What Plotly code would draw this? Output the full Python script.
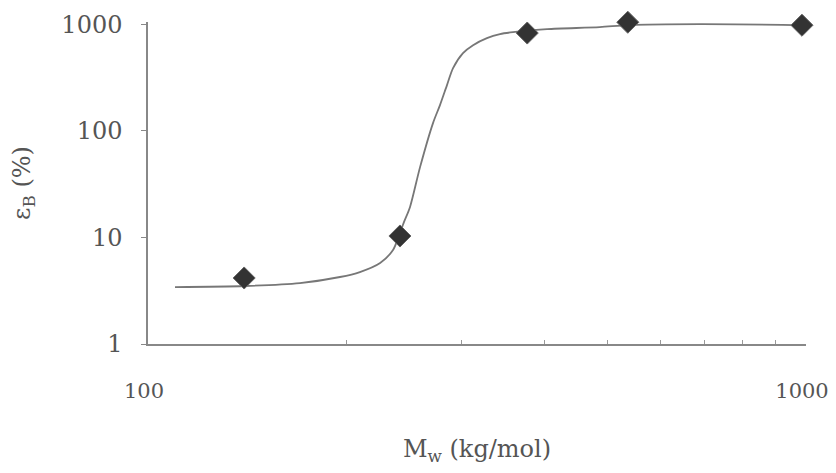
import plotly.graph_objects as go

# measured data points
mw_points = [140, 241.5, 377, 536, 986]
eb_points = [4.16, 10.3, 825, 1042, 977]

# fitted curve
mw_curve = [109.9, 140.4, 170.2, 195.8, 209.9, 225.3, 235.7, 239.9, 244.9, 250.1, 259.1,
            271.1, 277.8, 284.7, 290.8, 301.1, 311.9, 327.4, 342.7, 358.6, 404.1,
            486, 536.5, 690, 1000]
eb_curve = [3.42, 3.50, 3.73, 4.25, 4.73, 5.75, 7.61, 9.86, 13.9, 19.2, 45.6,
            118, 174, 268, 387, 535, 635, 739, 806, 841, 898,
            937, 979, 1000, 979]

y_ticks = [1, 10, 100, 1000]
y_labels = ["1", "10", "100", "1000"]
x_ticks = [100, 1000]
x_labels = ["100", "1000"]
x_minor = [200, 300, 400, 500, 600, 700, 800, 900]

font = dict(family="DejaVu Serif", size=24, color="#555")
xtick_font = dict(family="DejaVu Serif", size=21, color="#555")

fig = go.Figure()
fig.add_trace(go.Scatter(x=mw_curve, y=eb_curve, mode="lines", line_shape="spline",
                         line=dict(color="#777", width=1.8, smoothing=0.8),
                         showlegend=False, hoverinfo="skip"))
fig.add_trace(go.Scatter(x=mw_points, y=eb_points, mode="markers",
                         marker=dict(symbol="diamond", size=17, color="#333",
                                     line=dict(color="#666", width=1)),
                         showlegend=False, cliponaxis=False))

# page body has an 8px margin, so the figure is sized to fit the window
fig.update_layout(
    width=828, height=465, autosize=False,
    margin=dict(l=140, r=30, t=14, b=129),
    paper_bgcolor="white", plot_bgcolor="white",
    font=font,
    xaxis=dict(type="log", range=[2, 3], tickvals=x_ticks, ticktext=x_labels,
               automargin=False, tickfont=xtick_font,
               showgrid=False, zeroline=False, showline=True, linecolor="#888", linewidth=1.5,
               ticks="", ticklabelstandoff=27, ticklabeloverflow="allow", ticklabelshift=-4,
               minor=dict(ticks="inside", ticklen=4, tickcolor="#999", showgrid=False,
                          tickvals=x_minor),
               title=dict(text="M<sub>w</sub> (kg/mol)", standoff=38, font=font)),
    yaxis=dict(type="log", range=[0, 3.02], tickvals=y_ticks, ticktext=y_labels,
               automargin=False,
               showgrid=False, zeroline=False, showline=True, linecolor="#888", linewidth=1.5,
               ticks="outside", ticklen=5, tickcolor="#888", ticklabelstandoff=14,
               title=dict(text="ε<sub>B</sub> (%)", standoff=25, font=font)),
)

fig.write_html("out.html")
